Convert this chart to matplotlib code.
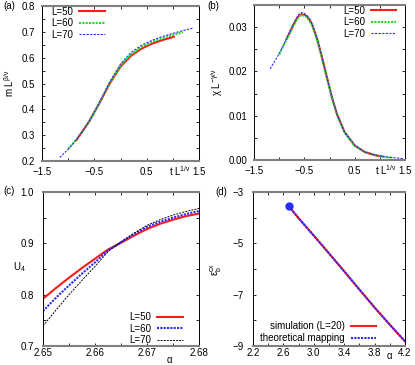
import matplotlib
matplotlib.use('Agg')
import matplotlib.pyplot as plt
import matplotlib.ticker as ticker

plt.rcParams['font.family'] = ['Liberation Sans', 'DejaVu Sans']
plt.rcParams['font.size'] = 7
plt.rcParams['mathtext.fontset'] = 'custom'
plt.rcParams['mathtext.rm'] = 'Liberation Sans'
plt.rcParams['mathtext.it'] = 'Liberation Sans:italic'
plt.rcParams['mathtext.default'] = 'regular'

# (a) m L^{beta/nu} vs t L^{1/nu}
a_x70 = [-1.16, -1.0, -0.8, -0.6, -0.4, -0.2, 0.0, 0.2, 0.4, 0.6, 0.8, 1.0, 1.2, 1.4]
a_y70 = [0.214, 0.245, 0.292, 0.352, 0.427, 0.508, 0.575, 0.620, 0.648, 0.667, 0.682, 0.694, 0.705, 0.715]
a_x60 = [-1.0, -0.8, -0.6, -0.4, -0.2, 0.0, 0.2, 0.4, 0.6, 0.8, 1.0, 1.19]
a_y60 = [0.247, 0.293, 0.352, 0.426, 0.505, 0.570, 0.613, 0.641, 0.661, 0.676, 0.688, 0.699]
a_x50 = [-0.84, -0.6, -0.4, -0.2, 0.0, 0.2, 0.4, 0.6, 0.8, 1.02]
a_y50 = [0.282, 0.353, 0.425, 0.502, 0.565, 0.607, 0.635, 0.654, 0.668, 0.681]

# (b) chi L^{-gamma/nu} vs t L^{1/nu}
b_x70 = [-1.18, -1.0, -0.8, -0.7, -0.65, -0.6, -0.55, -0.5, -0.45, -0.4, -0.35, -0.25, -0.15, -0.05,
         0.05, 0.15, 0.3, 0.5, 0.7, 0.9, 1.1, 1.3, 1.47]
b_y70 = [0.0206, 0.0240, 0.0287, 0.0311, 0.0322, 0.0330, 0.0333, 0.0331, 0.0327, 0.0320, 0.0309, 0.0276,
         0.0233, 0.0186, 0.0141, 0.0103, 0.0063, 0.0033, 0.0018, 0.0011, 0.0007, 0.0005, 0.0003]
b_x60 = [-1.0, -0.8, -0.7, -0.65, -0.6, -0.55, -0.5, -0.45, -0.4, -0.35, -0.25, -0.15, -0.05,
         0.05, 0.15, 0.3, 0.5, 0.7, 0.9, 1.1, 1.25]
b_y60 = [0.0238, 0.0284, 0.0307, 0.0317, 0.0325, 0.0327, 0.0326, 0.0322, 0.0315, 0.0305, 0.0273,
         0.0231, 0.0185, 0.0140, 0.0102, 0.0062, 0.0032, 0.0018, 0.0011, 0.0007, 0.0005]
b_x50 = [-0.85, -0.7, -0.65, -0.6, -0.55, -0.5, -0.45, -0.4, -0.35, -0.25, -0.15, -0.05,
         0.05, 0.15, 0.3, 0.5, 0.7, 0.9, 1.05]
b_y50 = [0.0274, 0.0309, 0.0319, 0.0327, 0.0329, 0.0328, 0.0324, 0.0317, 0.0307, 0.0275, 0.0232, 0.0186,
         0.0141, 0.0103, 0.0063, 0.0033, 0.0018, 0.0011, 0.0008]

# (c) Binder cumulant U4 vs alpha
c_alpha = [2.65, 2.6525, 2.655, 2.6575, 2.66, 2.6625, 2.665, 2.6675, 2.67, 2.6725, 2.675, 2.6775, 2.68]
c_u50 = [0.792, 0.813, 0.833, 0.852, 0.870, 0.888, 0.901, 0.915, 0.928, 0.938, 0.946, 0.953, 0.958]
c_u60 = [0.768, 0.794, 0.818, 0.841, 0.863, 0.886, 0.902, 0.918, 0.932, 0.942, 0.950, 0.957, 0.963]
c_u70 = [0.739, 0.770, 0.800, 0.828, 0.855, 0.884, 0.903, 0.920, 0.935, 0.946, 0.955, 0.962, 0.968]

# (d) eps_b^cx vs alpha
d_alpha = [2.67, 2.8, 3.0, 3.2, 3.4, 3.6, 3.8, 4.0, 4.2]
d_sim = [-3.55, -4.02, -4.70, -5.39, -6.09, -6.80, -7.50, -8.17, -8.82]
d_theo = [-3.55, -4.02, -4.70, -5.39, -6.09, -6.80, -7.50, -8.17, -8.82]
d_pt_alpha = [2.67]
d_pt_eps = [-3.55]

RED = '#ff1a1a'
GREEN = '#1ee01e'
BLUE = '#2a2aff'


def minus_fmt(fmt):
    return ticker.FuncFormatter(lambda v, p: (fmt % v).replace('-', '\u2212'))


def style(ax, xpad, ypad):
    ax.tick_params(which='both', direction='in', top=True, right=True,
                   length=2.5, width=0.6)
    ax.tick_params(axis='x', which='both', pad=xpad)
    ax.tick_params(axis='y', which='both', pad=ypad)
    for s in ['top', 'bottom']:
        ax.spines[s].set_color('#808080')
        ax.spines[s].set_linewidth(1.5)
    for s in ['left', 'right']:
        ax.spines[s].set_color('black')
        ax.spines[s].set_linewidth(0.7)


fig = plt.figure(figsize=(4.15, 3.65), dpi=100)
ax1 = fig.add_axes([42 / 415, 1 - 161 / 365, 157 / 415, 155 / 365])
ax2 = fig.add_axes([254 / 415, 1 - 160 / 365, 151 / 415, 155 / 365])
ax3 = fig.add_axes([43 / 415, 1 - 346 / 365, 156 / 415, 154 / 365])
ax4 = fig.add_axes([253 / 415, 1 - 346 / 365, 152 / 415, 154 / 365])

# ---- (a)
ax1.plot(a_x50, a_y50, color=RED, lw=1.5, label='L=50')
ax1.plot(a_x60, a_y60, color=GREEN, lw=1.5, dashes=(1, 0.6), label='L=60')
ax1.plot(a_x70, a_y70, color=BLUE, lw=0.8, dashes=(2, 1.2), label='L=70')
ax1.set_xlim(-1.5, 1.5)
ax1.set_ylim(0.2, 0.8)
ax1.set_xticks([-1.5, -0.5, 0.5, 1.5])
ax1.set_xticks([-1.0, 0.0, 1.0], minor=True)
ax1.yaxis.set_major_locator(ticker.MultipleLocator(0.1))
ax1.yaxis.set_minor_locator(ticker.MultipleLocator(0.05))
ax1.xaxis.set_major_formatter(minus_fmt('%.1f'))
ax1.yaxis.set_major_formatter(minus_fmt('%.1f'))
style(ax1, 4.0, 5.0)
ax1.set_ylabel('m L$^{β/ν}$', labelpad=4)
ax1.text(0.88, -0.095, 't L$^{1/ν}$', transform=ax1.transAxes, ha='center', va='baseline')
ax1.legend(loc='upper left', bbox_to_anchor=(0.06, 0.995), frameon=False, markerfirst=False,
           handlelength=2.6, handletextpad=0.6, labelspacing=0.15, borderpad=0, borderaxespad=0)

# ---- (b)
ax2.plot(b_x50, b_y50, color=RED, lw=1.5, label='L=50')
ax2.plot(b_x60, b_y60, color=GREEN, lw=1.5, dashes=(1, 0.6), label='L=60')
ax2.plot(b_x70, b_y70, color=BLUE, lw=0.8, dashes=(2, 1.2), label='L=70')
ax2.set_xlim(-1.5, 1.5)
ax2.set_ylim(0.0, 0.035)
ax2.set_xticks([-1.5, -0.5, 0.5, 1.5])
ax2.set_xticks([-1.0, 0.0, 1.0], minor=True)
ax2.set_yticks([0.0, 0.01, 0.02, 0.03])
ax2.set_yticks([0.005, 0.015, 0.025], minor=True)
ax2.xaxis.set_major_formatter(minus_fmt('%.1f'))
ax2.yaxis.set_major_formatter(minus_fmt('%.2f'))
style(ax2, 4.0, 4.5)
ax2.set_ylabel('χ L$^{−γ/ν}$', labelpad=3)
ax2.text(0.874, -0.095, 't L$^{1/ν}$', transform=ax2.transAxes, ha='center', va='baseline')
ax2.legend(loc='upper left', bbox_to_anchor=(0.59, 0.995), frameon=False, markerfirst=False,
           handlelength=2.6, handletextpad=0.6, labelspacing=0.15, borderpad=0, borderaxespad=0)

# ---- (c)
ax3.plot(c_alpha, c_u50, color=RED, lw=1.5, label='L=50')
ax3.plot(c_alpha, c_u60, color=BLUE, lw=1.5, dashes=(1, 0.6), label='L=60')
ax3.plot(c_alpha, c_u70, color='black', lw=0.7, dashes=(2, 1.2), label='L=70')
ax3.set_xlim(2.65, 2.68)
ax3.set_ylim(0.7, 1.0)
ax3.set_xticks([2.65, 2.66, 2.67, 2.68])
ax3.set_xticks([2.655, 2.665, 2.675], minor=True)
ax3.set_yticks([0.7, 0.8, 0.9, 1.0])
ax3.set_yticks([0.75, 0.85, 0.95], minor=True)
ax3.xaxis.set_major_formatter(minus_fmt('%.2f'))
ax3.yaxis.set_major_formatter(minus_fmt('%.1f'))
style(ax3, 1.5, 6.5)
ax3.text(-0.19, 0.513, 'U$_4$', transform=ax3.transAxes, ha='left', va='center')
ax3.text(0.81, -0.11, 'α', transform=ax3.transAxes, ha='center', va='baseline')
ax3.legend(loc='lower left', bbox_to_anchor=(0.555, 0.005), frameon=False, markerfirst=False,
           handlelength=2.6, handletextpad=0.6, labelspacing=0.15, borderpad=0, borderaxespad=0)

# ---- (d)
ax4.plot(d_alpha, d_sim, color=RED, lw=1.5, label='simulation (L=20)')
ax4.plot(d_alpha, d_theo, color=BLUE, lw=1.5, dashes=(1, 0.6), label='theoretical mapping')
ax4.plot(d_pt_alpha, d_pt_eps, 'o', color=BLUE, ms=5, zorder=5)
ax4.set_xlim(2.2, 4.2)
ax4.set_ylim(-9, -3)
ax4.set_xticks([2.2, 2.6, 3.0, 3.4, 3.8, 4.2])
ax4.set_xticks([2.4, 2.8, 3.2, 3.6, 4.0], minor=True)
ax4.set_yticks([-9, -7, -5, -3])
ax4.set_yticks([-8, -6, -4], minor=True)
ax4.xaxis.set_major_formatter(minus_fmt('%.1f'))
ax4.yaxis.set_major_formatter(minus_fmt('%d'))
style(ax4, 1.5, 7.0)
ax4.set_ylabel('ε$_b^{cx}$', labelpad=6)
ax4.text(0.90, -0.085, 'α', transform=ax4.transAxes, ha='center', va='baseline')
ax4.legend(loc='lower right', bbox_to_anchor=(0.81, 0.02), frameon=False, markerfirst=False,
           handlelength=2.6, handletextpad=0.6, labelspacing=0.15, borderpad=0, borderaxespad=0)

# panel labels
fig.text(3 / 415, 1 - 6 / 365, '(a)', ha='left', va='center')
fig.text(207 / 415, 1 - 6 / 365, '(b)', ha='left', va='center')
fig.text(3 / 415, 1 - 191 / 365, '(c)', ha='left', va='center')
fig.text(215 / 415, 1 - 192 / 365, '(d)', ha='left', va='center')

fig.savefig('out.png', dpi=100)
